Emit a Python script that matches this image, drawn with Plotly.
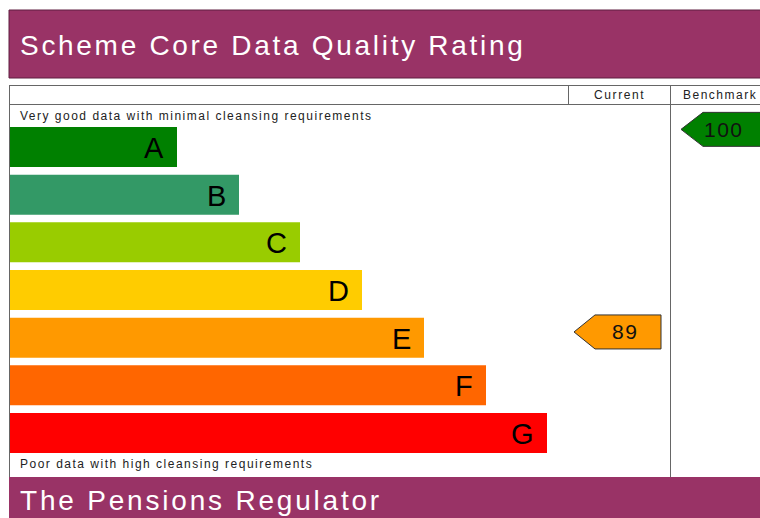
import plotly.graph_objects as go

# ---- data ----
bands = ["A", "B", "C", "D", "E", "F", "G"]
band_lengths = [167, 229, 290, 352, 414, 476, 537]
band_colors = ["#008000", "#339966", "#99CC00", "#FFCC00", "#FF9900", "#FF6600", "#FF0000"]
current_value = 89
current_band = "E"
benchmark_value = 100
benchmark_band = "A"
title_text = "Scheme Core Data Quality Rating"
footer_text = "The Pensions Regulator"
top_note = "Very good data with minimal cleansing requirements"
bottom_note = "Poor data with high cleansing requirements"
col_headers = ["Current", "Benchmark"]

W, H = 760, 518
FONT = "Liberation Sans, Arial, sans-serif"
BANNER = "#993366"
LINE = "#666666"


def px(x):
    return x / W


def py(y):
    return 1 - y / H


def ls(text, sp):
    return f'<span style="letter-spacing:{sp}px">{text}</span>'


fig = go.Figure()
fig.add_trace(go.Bar(
    y=bands, x=band_lengths, orientation="h",
    marker=dict(color=band_colors, line=dict(width=0)),
    width=0.84, hoverinfo="skip", showlegend=False,
))

# band letters at the right end of each bar
annotations = []
for b, v in zip(bands, band_lengths):
    annotations.append(dict(
        x=v, y=b, xref="x", yref="y", text=b, showarrow=False,
        xanchor="right", yanchor="middle", xshift=-11, yshift=-1,
        font=dict(family=FONT, size=29, color="#000000"),
    ))

shapes = []
# title banner
shapes.append(dict(type="rect", xref="paper", yref="paper",
                   x0=px(9), x1=px(770), y0=py(78), y1=py(10),
                   fillcolor=BANNER, line=dict(color="#5e1f40", width=1), layer="below"))
# footer banner
shapes.append(dict(type="rect", xref="paper", yref="paper",
                   x0=px(9), x1=px(770), y0=py(530), y1=py(477),
                   fillcolor=BANNER, line=dict(width=0), layer="above"))
# table lines
for (x0, y0, x1, y1) in [(9, 85.5, 770, 85.5), (9, 104.5, 770, 104.5),
                         (9.5, 85, 9.5, 477), (568.5, 85, 568.5, 104),
                         (670.5, 85, 670.5, 477)]:
    shapes.append(dict(type="line", xref="paper", yref="paper",
                       x0=px(x0), x1=px(x1), y0=py(y0), y1=py(y1),
                       line=dict(color=LINE, width=1), layer="above"))


def arrow(value, band, tip_x, body_x, right_x, yoff, text_x):
    i = bands.index(band)
    color = band_colors[i]
    yc = i + yoff
    path = (f"M {tip_x},0 L {body_x},17 L {right_x},17 "
            f"L {right_x},-17 L {body_x},-17 Z")
    shapes.append(dict(type="path", xref="x", yref="y", ysizemode="pixel",
                       yanchor=yc, path=path, fillcolor=color,
                       line=dict(color="#333333", width=1), layer="above"))
    annotations.append(dict(x=text_x, y=yc, xref="x", yref="y", text=ls(str(value), 1.5),
                            showarrow=False, xanchor="center", yanchor="middle",
                            font=dict(family=FONT, size=21, color="#111111")))


# x data units = pixel - 10
arrow(current_value, current_band, 564, 585, 651, -0.12, 615)
arrow(benchmark_value, benchmark_band, 671, 693, 765, -0.37, 714)

# texts
annotations += [
    dict(x=px(18), y=py(45), xref="paper", yref="paper", text=ls(title_text, 2.7),
         showarrow=False, xanchor="left", yanchor="middle",
         font=dict(family=FONT, size=28, color="#ffffff")),
    dict(x=px(18), y=py(500), xref="paper", yref="paper", text=ls(footer_text, 2.8),
         showarrow=False, xanchor="left", yanchor="middle",
         font=dict(family=FONT, size=28, color="#ffffff")),
    dict(x=px(18), y=py(115.5), xref="paper", yref="paper", text=ls(top_note, 1.5),
         showarrow=False, xanchor="left", yanchor="middle",
         font=dict(family=FONT, size=12, color="#222222")),
    dict(x=px(18), y=py(464), xref="paper", yref="paper", text=ls(bottom_note, 1.5),
         showarrow=False, xanchor="left", yanchor="middle",
         font=dict(family=FONT, size=12, color="#222222")),
    dict(x=px(619), y=py(95), xref="paper", yref="paper", text=ls(col_headers[0], 1.6),
         showarrow=False, xanchor="center", yanchor="middle",
         font=dict(family=FONT, size=12, color="#222222")),
    dict(x=px(681), y=py(95), xref="paper", yref="paper", text=ls(col_headers[1], 1.5),
         showarrow=False, xanchor="left", yanchor="middle",
         font=dict(family=FONT, size=12, color="#222222")),
]

pitch = (433 - 147) / 6.0
c0 = 147  # pixel of band A centre
fig.update_layout(
    width=W, height=H, margin=dict(l=0, r=0, t=0, b=0),
    paper_bgcolor="#ffffff", plot_bgcolor="#ffffff",
    xaxis=dict(range=[-10, W - 10], visible=False, fixedrange=True),
    yaxis=dict(type="category", categoryorder="array", categoryarray=bands,
               range=[(H - c0) / pitch, -c0 / pitch], visible=False, fixedrange=True),
    shapes=shapes, annotations=annotations, bargap=0.16,
)

fig.write_html(
    "out.html",
    config={"displayModeBar": False},
    post_script="document.body.style.margin='0';document.body.style.overflow='hidden';",
)
